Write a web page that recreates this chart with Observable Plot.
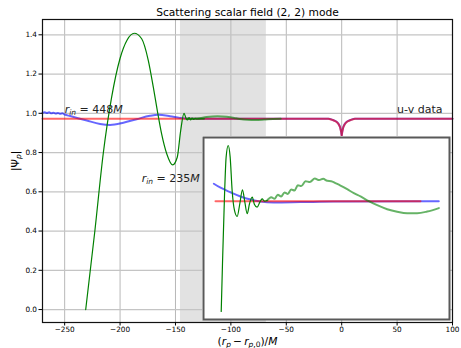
<!DOCTYPE html>
<html>
<head>
<meta charset="utf-8">
<script src="https://cdn.jsdelivr.net/npm/d3@7"></script>
<script src="https://cdn.jsdelivr.net/npm/@observablehq/plot@0.6"></script>
<style>
  html, body { margin: 0; padding: 0; background: white; }
  #figure { position: relative; width: 461px; height: 348px; }
</style>
</head>
<body>
<div id="figure"></div>
<script>
// Axis ticks
const xTicks = [-250, -200, -150, -100, -50, 0, 50, 100];
const yTicks = [0.0, 0.2, 0.4, 0.6, 0.8, 1.0, 1.2, 1.4];

// Shaded window (r_p - r_p,0)/M
const shadeFrom = -145.5;
const shadeTo = -68;

// Green run (r_in = 235M), fine line
const greenX = [-231, -222.7, -215.2, -207.6, -200.1, -193.5, -187.2, -180.5, -174.5, -170.0, -166.4, -162.5, -157.9, -152.5, -148.4, -145.3, -142.3, -140.5, -139.2, -137.8, -136.4, -135.0, -133.6, -132.2, -130.5, -128, -124];
const greenY = [0, 0.403, 0.794, 1.082, 1.278, 1.375, 1.408, 1.380, 1.269, 1.133, 1.014, 0.895, 0.794, 0.737, 0.776, 0.912, 1.0, 0.975, 0.966, 0.978, 0.967, 0.976, 0.969, 0.974, 0.971, 0.972, 0.972];

// Green run, late part (thick translucent)
const greenLateX = [-140, -130, -122, -112, -104, -97, -92, -85, -78, -70, -62, -55];
const greenLateY = [0.972, 0.974, 0.981, 0.985, 0.983, 0.976, 0.971, 0.967, 0.966, 0.968, 0.971, 0.972];

// Blue run (r_in = 448M), early part
const blueX = [-270, -268, -266, -264, -262, -260, -258, -256, -254, -252, -250, -245, -238, -230, -218, -209, -197, -185, -173, -165.5, -155, -146, -138, -130];
const blueY = [1.003, 1.006, 1.001, 1.005, 1.000, 1.003, 0.999, 1.002, 0.998, 1.000, 0.994, 0.986, 0.975, 0.963, 0.946, 0.941, 0.952, 0.970, 0.987, 0.992, 0.985, 0.976, 0.972, 0.972];

// u-v data
const redX = [-270, -12, -8, -5, -3, -1.5, -0.5, 0, 0.5, 1.5, 3, 5, 8, 12, 100];
const redY = [0.972, 0.972, 0.966, 0.958, 0.947, 0.930, 0.905, 0.885, 0.905, 0.930, 0.947, 0.958, 0.966, 0.972, 0.972];

// Inset (zoomed view)
const insetRedX = [-137.8, 70.5];
const insetRedY = [0.972, 0.972];
const insetBlueX = [-139.5, -132.7, -122.6, -112.4, -102.2, -92.1, -78.6, -51.4, -17.9, 89.1];
const insetBlueY = [0.9816, 0.9794, 0.9769, 0.9746, 0.9729, 0.9718, 0.9713, 0.9715, 0.9718, 0.972];
const insetGreenX = [-132.0, -130.7, -128.7, -127.0, -124.9, -122.9, -120.9, -118.5, -115.8, -113.1, -110.4, -108.0, -105.6, -103.25, -100.5, -98.2, -95.5, -92.75, -90.4, -88.0, -85.3];
const insetGreenY = [0.9114, 0.9376, 0.9742, 0.9962, 1.0026, 0.9962, 0.9779, 0.9669, 0.9636, 0.9706, 0.9783, 0.9715, 0.9651, 0.9706, 0.9742, 0.9702, 0.9687, 0.9715, 0.9733, 0.972, 0.9724];
const insetGreenLateX = [-85.3, -81.2, -77.8, -74.5, -71.1, -67.7, -64.3, -60.9, -57.5, -54.1, -50.7, -46.3, -41.9, -36.9, -32.45, -28.4, -24.3, -20.25, -15.85, -10.8, -4.0, 2.8, 9.6, 18.0, 26.5, 36.7, 46.8, 57.0, 67.15, 77.3, 89.2];
const insetGreenLateY = [0.9724, 0.9742, 0.9733, 0.9755, 0.9746, 0.9768, 0.9760, 0.9784, 0.9779, 0.9808, 0.9803, 0.9830, 0.9825, 0.9845, 0.9836, 0.9843, 0.9832, 0.9830, 0.9819, 0.9806, 0.9786, 0.9764, 0.9746, 0.9720, 0.9698, 0.9676, 0.9662, 0.9654, 0.9654, 0.9663, 0.9682];

// Annotations
const noteText = ["r_in = 448M", "r_in = 235M", "u-v data"];
const noteX = [-250, -180.5, 50];
const noteY = [1.0, 0.652, 1.0];

const titleText = "Scattering scalar field (2, 2) mode";
const xLabelText = "(r_p − r_p,0)/M";
const yLabelText = "|Ψ_p|";

// Rich-text pieces for the math labels (italic / subscript)
const mathParts = {
  "r_in = 448M": [{t: "r", i: 1}, {t: "in", i: 1, sub: 1}, {t: " = 448"}, {t: "M", i: 1}],
  "r_in = 235M": [{t: "r", i: 1}, {t: "in", i: 1, sub: 1}, {t: " = 235"}, {t: "M", i: 1}],
  "(r_p − r_p,0)/M": [{t: "("}, {t: "r", i: 1}, {t: "p", i: 1, sub: 1}, {t: "\u2009−\u2009"}, {t: "r", i: 1}, {t: "p", i: 1, sub: 1}, {t: ",0", sub: 1}, {t: ")/"}, {t: "M", i: 1}],
  "|Ψ_p|": [{t: "|Ψ"}, {t: "p", i: 1, sub: 1}, {t: "|"}]
};

const pts = (xs, ys) => xs.map((x, k) => ({x, y: ys[k]}));
const red = pts(redX, redY);
const blue = pts(blueX, blueY).concat(red.filter(d => d.x > blueX[blueX.length - 1]));
const green = pts(greenX, greenY);
const greenLate = pts(greenLateX, greenLateY);
const notes = noteText.map((t, k) => ({t, x: noteX[k], y: noteY[k]}));

const minus = d => (d < 0 ? "−" + Math.abs(d) : String(d));
const font = "DejaVu Sans";

const main = Plot.plot({
  width: 461,
  height: 348,
  marginLeft: 42,
  marginRight: 9,
  marginTop: 19,
  marginBottom: 26,
  style: {fontFamily: font, fontSize: "7.3px", background: "white", color: "black", overflow: "visible"},
  x: {domain: [-270, 100]},
  y: {domain: [-0.066, 1.478]},
  marks: [
    Plot.rect([{a: shadeFrom, b: shadeTo}], {x1: "a", x2: "b", fill: "#e2e2e2"}),
    Plot.gridX({ticks: xTicks, stroke: "#b8b8b8", strokeOpacity: 1, strokeWidth: 1}),
    Plot.gridY({ticks: yTicks, stroke: "#c4c4c4", strokeOpacity: 1, strokeWidth: 1.3}),
    Plot.line(blue, {x: "x", y: "y", stroke: "blue", strokeOpacity: 0.6, strokeWidth: 2, curve: "monotone-x"}),
    Plot.line(red, {x: "x", y: "y", stroke: "red", strokeOpacity: 0.6, strokeWidth: 2}),
    Plot.line(green, {x: "x", y: "y", stroke: "#008000", strokeWidth: 1.2, curve: "monotone-x"}),
    Plot.line(greenLate, {x: "x", y: "y", stroke: "green", strokeOpacity: 0.6, strokeWidth: 2, curve: "monotone-x"}),
    Plot.frame({stroke: "#111", strokeWidth: 1.2}),
    Plot.axisX({ticks: xTicks, tickSize: 3.5, tickPadding: 1.2, tickFormat: minus, label: null}),
    Plot.axisY({ticks: yTicks, tickSize: 3.5, tickPadding: 2, tickFormat: d3.format(".1f"), label: null}),
    Plot.text(notes, {x: "x", y: "y", text: "t", textAnchor: "start", lineAnchor: "bottom", fontSize: 11, fill: "#222"}),
    Plot.text([titleText], {frameAnchor: "top", lineAnchor: "bottom", dy: -4, fontSize: 10.7}),
    Plot.text([xLabelText], {frameAnchor: "bottom", lineAnchor: "bottom", dy: 22.3, fontSize: 10.7}),
    Plot.text([yLabelText], {frameAnchor: "left", rotate: -90, dx: -27, fontSize: 10.7})
  ]
});

const inset = Plot.plot({
  width: 248,
  height: 184,
  margin: 1,
  style: {position: "absolute", left: "202px", top: "136px", background: "white", overflow: "visible"},
  x: {domain: [-150, 100], axis: null},
  y: {domain: [0.907, 1.007], axis: null},
  marks: [
    Plot.line(pts(insetBlueX, insetBlueY), {x: "x", y: "y", stroke: "blue", strokeOpacity: 0.6, strokeWidth: 2, curve: "monotone-x"}),
    Plot.line(pts(insetRedX, insetRedY), {x: "x", y: "y", stroke: "red", strokeOpacity: 0.6, strokeWidth: 2}),
    Plot.line(pts(insetGreenX, insetGreenY), {x: "x", y: "y", stroke: "#008000", strokeWidth: 1.2, curve: "monotone-x"}),
    Plot.line(pts(insetGreenLateX, insetGreenLateY), {x: "x", y: "y", stroke: "green", strokeOpacity: 0.6, strokeWidth: 2, curve: "monotone-x"}),
    Plot.frame({stroke: "#595959", strokeWidth: 2})
  ]
});

// Turn plain label strings into italic / subscripted tspans
d3.select(main).selectAll("text").each(function () {
  const parts = mathParts[this.textContent];
  if (!parts) return;
  const fs = parseFloat(this.getAttribute("font-size")) || 10.7;
  const el = d3.select(this);
  el.text("");
  let shift = 0;
  for (const p of parts) {
    const s = el.append("tspan").text(p.t);
    if (p.i) s.attr("font-style", "italic");
    if (p.sub) s.attr("font-size", (fs * 0.7).toFixed(2));
    const target = p.sub ? 0.2 * fs : 0;
    if (target !== shift) s.attr("dy", (target - shift).toFixed(2));
    shift = target;
  }
});

const figure = document.getElementById("figure");
figure.append(main);
figure.append(inset);
</script>
</body>
</html>
